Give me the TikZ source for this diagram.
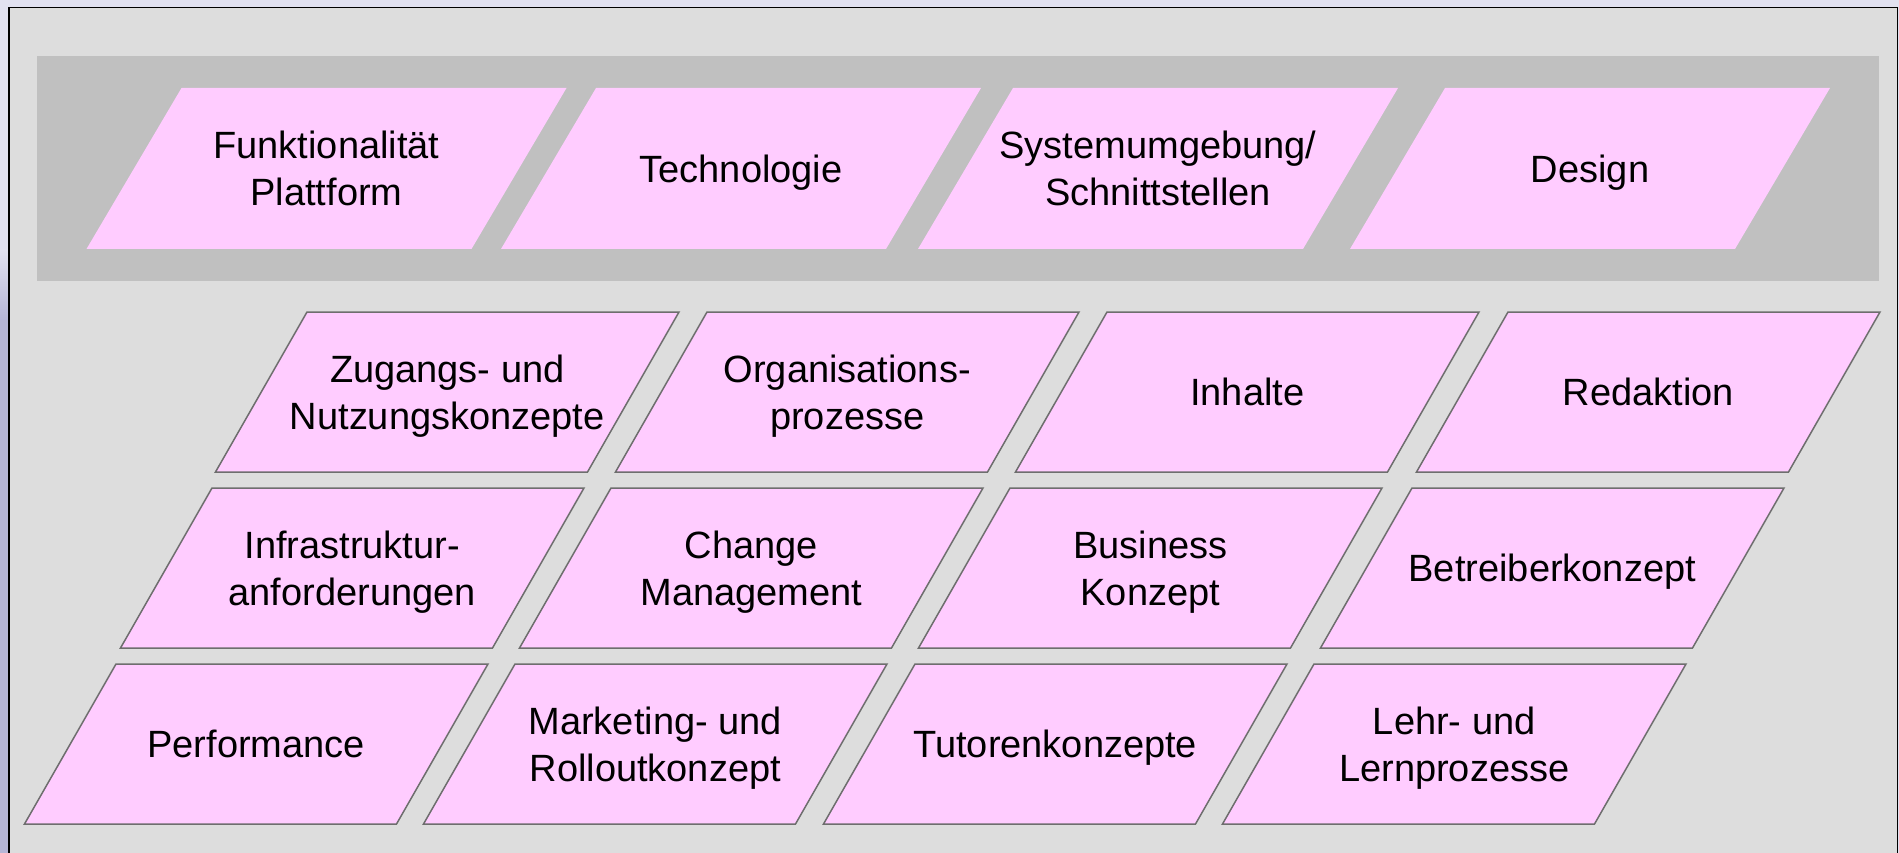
\documentclass[tikz,border=0pt]{standalone}
\usepackage{fontspec}
\setmainfont{Liberation Sans}
\definecolor{lav}{HTML}{E1E1F0}
\definecolor{lavdark}{HTML}{B6B6D6}
\definecolor{panel}{HTML}{DDDDDD}
\definecolor{bar}{HTML}{C0C0C0}
\definecolor{pinkfill}{HTML}{FFCCFF}
\definecolor{edge}{HTML}{6E6E6E}
\tikzset{
  toppg/.style={fill=pinkfill},
  rowpg/.style={fill=pinkfill,draw=edge,line width=1.5pt,line join=miter},
  txt/.style={align=center,inner sep=0pt,text depth=0pt,font=\fontsize{38}{47}\selectfont}
}
% #1 name, #2 style, #3 top-left x, #4 top y, #5 width, #6 skew, #7 height, #8 text
\newcommand\pgram[8]{%
  \path[#2] (#3,#4) -- ++(#5,0) -- ++(-#6,#7) -- ++(-#5,0) -- cycle;
  \node[txt] (#1) at ({#3+#5/2-#6/2},{#4+#7/2}) {#8};
}
\begin{document}
\begin{tikzpicture}[x=1pt,y=-1pt]
\useasboundingbox (0,0) rectangle (1899,853);
% outer background
\fill[lav] (0,0) rectangle (1899,853);
\fill[lavdark] (0,320) rectangle (10,853);
\shade[top color=lav,bottom color=lavdark] (0,250) rectangle (10,320.5);
% panel
\path[fill=panel,draw=black,line width=1.6pt] (9,7.5) rectangle (1897.5,870);
% top bar
\fill[bar] (37,56) rectangle (1879,281);
% top row
\pgram{funk}{toppg}{181.5}{88}{385}{95}{161}{Funktionalität\\Plattform}
\pgram{tech}{toppg}{596}{88}{385}{95}{161}{Technologie}
\pgram{sys}{toppg}{1013}{88}{385}{95}{161}{Systemumgebung/\\Schnittstellen}
\pgram{design}{toppg}{1445}{88}{385}{95}{161}{Design}
% row 2
\pgram{zug}{rowpg}{307}{312}{372}{91.5}{160}{Zugangs- und\\Nutzungskonzepte}
\pgram{org}{rowpg}{707}{312}{372}{91.5}{160}{Organisations-\\prozesse}
\pgram{inh}{rowpg}{1107}{312}{372}{91.5}{160}{Inhalte}
\pgram{red}{rowpg}{1508}{312}{372}{91.5}{160}{Redaktion}
% row 3
\pgram{infra}{rowpg}{212}{488}{372}{91.5}{160}{Infrastruktur-\\anforderungen}
\pgram{change}{rowpg}{611}{488}{372}{91.5}{160}{Change\\Management}
\pgram{bus}{rowpg}{1010}{488}{372}{91.5}{160}{Business\\Konzept}
\pgram{betr}{rowpg}{1412}{488}{372}{91.5}{160}{Betreiberkonzept}
% row 4
\pgram{perf}{rowpg}{116}{664}{372}{91.5}{160}{Performance}
\pgram{mark}{rowpg}{515}{664}{372}{91.5}{160}{Marketing- und\\Rolloutkonzept}
\pgram{tut}{rowpg}{915}{664}{372}{91.5}{160}{Tutorenkonzepte}
\pgram{lehr}{rowpg}{1314}{664}{372}{91.5}{160}{Lehr- und\\Lernprozesse}
\end{tikzpicture}
\end{document}
